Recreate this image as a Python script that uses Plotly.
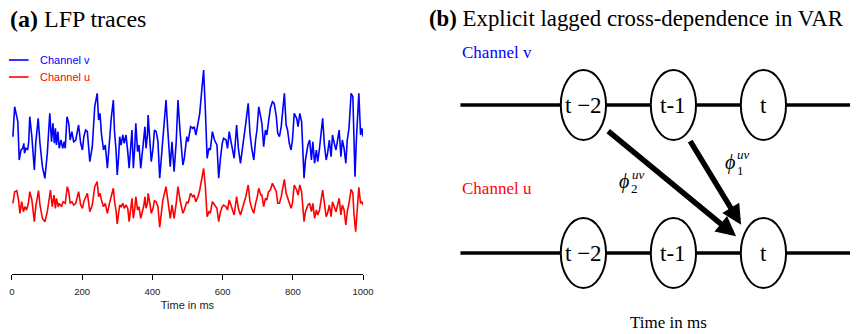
import math
import plotly.graph_objects as go

# ---------------------------------------------------------------------------
# LFP traces: time (ms) and amplitude (arbitrary units) for the two channels
# ---------------------------------------------------------------------------
time_v = [3, 8, 12, 17, 21, 26, 31, 34, 36, 40, 45, 48, 51, 57, 64, 68, 75, 80, 87, 94,
          101, 108, 113, 117, 121, 124, 127, 131, 135, 140, 145, 149, 152, 157, 162, 166, 171, 176, 182, 190,
          196, 201, 205, 210, 215, 222, 229, 236, 243, 247, 251, 255, 261, 266, 272, 278, 283, 289, 292, 297,
          300, 304, 307, 311, 316, 320, 325, 330, 334, 342, 346, 350, 353, 358, 362, 367, 376, 379, 382, 386,
          388, 393, 397, 402, 406, 411, 416, 421, 425, 430, 439, 444, 451, 456, 462, 468, 473, 479, 487, 491,
          498, 502, 509, 515, 519, 524, 530, 535, 540, 546, 551, 556, 561, 565, 571, 577, 584, 589, 594, 599,
          603, 610, 614, 619, 624, 628, 633, 640, 645, 651, 658, 666, 673, 678, 683, 689, 694, 698, 703, 709,
          712, 717, 722, 726, 731, 736, 742, 747, 753, 757, 762, 767, 776, 781, 785, 790, 795, 799, 804, 811,
          815, 820, 825, 832, 836, 843, 848, 853, 857, 862, 867, 871, 876, 885, 890, 895, 899, 904, 909, 913,
          918, 923, 932, 937, 941, 946, 951, 955, 960, 966, 971, 974, 977, 981, 988, 993, 997, 1000]
chan_v = [-1.7, 28.3, 21.7, 13.3, -25.0, -15.0, -13.3, -8.3, -18.3, -13.3, -15.0, -6.7, 18.3, -1.7, -35.0, -8.3, 16.7, -8.3, -31.7, -43.3,
          -18.3, 21.7, -6.7, 11.7, -8.3, 6.7, -10.0, 3.3, -13.3, -5.0, -13.3, -6.7, -13.3, 18.3, 11.7, -5.0, 3.3, -6.7, -5.0, 10.0,
          -8.3, -15.0, -1.7, 5.0, 3.3, -26.7, -11.7, 28.3, 41.7, 15.0, 21.7, 1.7, -15.0, -10.0, -33.3, -5.0, 16.7, 35.0, 5.0, -16.7,
          -40.0, -21.7, -1.7, -10.0, 0.0, -8.3, 0.0, -16.7, -33.3, 5.0, -33.3, -11.7, 11.7, -16.7, -10.0, -33.3, 0.0, 8.3, -13.3, 0.0,
          20.0, -6.7, -26.7, -13.3, 5.0, 3.3, -6.7, -43.3, -25.0, 1.7, 35.0, 5.0, -31.7, -6.7, -36.7, -6.7, 35.0, 3.3, -30.0, -23.3,
          -1.7, -6.7, 8.3, 6.7, 8.3, 0.0, 10.0, 21.7, 41.7, 65.0, 25.0, -23.3, -13.3, -15.0, 3.3, -5.0, -10.0, -43.3, -23.3, -8.3,
          -3.3, -5.0, -13.3, 3.3, -6.7, -13.3, -23.3, 10.0, -13.3, -28.3, -11.7, 11.7, 31.7, 1.7, -13.3, -25.0, -5.0, 5.0, 28.3, 15.0,
          11.7, -11.7, 5.0, 0.0, 16.7, 26.7, 33.3, 31.7, 18.3, 1.7, -1.7, 8.3, 41.7, 10.0, 5.0, -8.3, -15.0, -5.0, 21.7, 16.7,
          8.3, 21.7, 13.3, -43.3, -25.0, -10.0, -5.0, -25.0, -6.7, -28.3, -15.0, -26.7, -13.3, 16.7, -10.0, -25.0, -18.3, -5.0, -21.7, 0.0,
          -8.3, -15.0, 5.0, -21.7, -5.0, -13.3, -28.3, -5.0, 6.7, 41.7, 38.3, -8.3, -41.7, -5.0, 41.7, 0.0, 6.7, -1.7]

time_u = [3, 8, 14, 19, 23, 28, 33, 37, 42, 47, 51, 57, 64, 68, 76, 80, 87, 94, 101, 110,
          115, 120, 124, 127, 132, 135, 141, 146, 152, 158, 162, 166, 171, 176, 182, 190, 196, 201, 205, 210,
          215, 222, 229, 236, 243, 247, 251, 255, 261, 266, 272, 278, 283, 289, 292, 297, 300, 304, 307, 311,
          316, 320, 325, 330, 334, 342, 346, 350, 353, 358, 362, 367, 376, 379, 382, 386, 388, 393, 397, 402,
          406, 411, 416, 421, 425, 430, 439, 444, 451, 456, 462, 468, 473, 479, 487, 491, 498, 502, 509, 515,
          519, 524, 530, 535, 540, 546, 551, 556, 561, 565, 571, 577, 584, 589, 594, 599, 603, 610, 614, 619,
          624, 628, 633, 640, 645, 651, 658, 666, 673, 678, 683, 689, 694, 698, 703, 709, 712, 717, 722, 726,
          731, 736, 742, 747, 753, 757, 762, 767, 776, 781, 785, 790, 795, 799, 804, 811, 815, 820, 825, 832,
          836, 843, 848, 853, 857, 862, 867, 871, 876, 885, 890, 895, 899, 904, 909, 913, 918, 923, 932, 937,
          941, 946, 951, 955, 960, 966, 971, 974, 979, 983, 988, 993, 997, 1000]
chan_u = [1.7, 13.3, 14.3, 5.0, -8.3, 3.3, -6.7, -1.7, -5.0, 1.7, 13.3, 5.0, -16.7, -1.7, 14.3, 0.0, -13.3, -16.7, -6.7, 15.0,
          -1.7, 10.0, -3.3, 6.7, -1.7, 1.7, -1.7, 3.3, 1.7, 18.3, 13.3, 1.7, 3.3, 0.0, 1.7, 13.3, 0.0, -3.3, 3.3, 8.3,
          11.7, -6.7, 0.0, 18.3, 23.3, 8.3, 11.7, 5.0, -1.7, 1.7, -8.3, 1.7, 8.3, 16.7, 5.0, -6.7, -19.0, -10.0, 0.0, -1.7,
          1.7, -3.3, 0.0, -3.3, -16.7, 6.7, -13.3, -3.3, 8.3, -5.0, -1.7, -13.3, 0.0, 8.3, -3.3, 1.7, 11.7, 1.7, -8.3, -3.3,
          4.3, 3.3, -1.7, -22.3, -10.0, 5.0, 18.3, 5.0, -13.3, 0.0, -13.3, 1.7, 18.3, 5.0, -8.3, -5.0, 3.3, 1.7, 11.7, 8.3,
          10.0, 3.3, 8.3, 15.0, 25.0, 36.7, 18.3, -11.7, -6.7, -8.3, 3.3, 0.0, -3.3, -16.7, -6.7, -1.7, 0.0, -1.7, -5.0, 5.0,
          0.0, -3.3, -10.0, 8.3, -3.3, -10.0, -1.7, 8.3, 20.0, 3.3, -3.3, -8.3, 1.7, 6.7, 16.7, 10.0, 10.0, -1.7, 6.7, 5.0,
          13.3, 15.0, 21.7, 18.3, 13.3, 1.7, 1.7, 8.3, 25.7, 11.7, 6.7, 1.7, -3.3, 1.7, 20.0, 15.0, 10.0, 20.0, 13.3, -16.7,
          -6.7, 0.0, 1.7, -6.7, 1.7, -13.3, -5.0, -10.0, -5.0, 15.0, 0.0, -11.7, -8.3, 0.0, -11.7, 3.3, -1.7, -6.7, 6.7, -10.0,
          0.0, -5.0, -20.0, -6.7, 1.7, 15.7, 11.7, -8.3, -26.7, -1.7, 17.7, 1.7, 3.3, 0.0]

channel_names = ["Channel v", "Channel u"]
channel_colors = ["#0000ff", "#ff0000"]
v_offset = 70          # channel v is drawn above channel u
time_ticks = [0, 200, 400, 600, 800, 1000]

# ---------------------------------------------------------------------------
# VAR diagram: lags, node labels, channel rows and cross-channel edges
# ---------------------------------------------------------------------------
lag_values = [-2, -1, 0]
lag_labels = ["t \u22122", "t-1", "t"]
row_values = [1, 0]                 # channel v on top, channel u below
edge_sources = [-2, -1]             # lag of the channel-v node each edge leaves
edge_phi_index = ["2", "1"]

W, H = 861, 334
SERIF = "Liberation Serif, Times New Roman, serif"
SANS = "Liberation Sans, Arial, Helvetica, sans-serif"

# pixel geometry of the diagram coordinate system
LAG_PX, ROW_PX = 91.5, 148.0
ORIGIN_X, ORIGIN_Y = 773.0, 253.0   # pixel of (lag 0, channel u)
NODE_A, NODE_B = 23.0, 35.0          # node half-width / half-height in px


def dx(px):
    return (px - ORIGIN_X) / LAG_PX


def dy(py):
    return (ORIGIN_Y - py) / ROW_PX


fig = go.Figure()

# panel (a) traces
fig.add_trace(go.Scatter(x=time_v, y=[v + v_offset for v in chan_v], mode="lines",
                         line=dict(color=channel_colors[0], width=1.6),
                         name=channel_names[0], showlegend=False, xaxis="x", yaxis="y"))
fig.add_trace(go.Scatter(x=time_u, y=chan_u, mode="lines",
                         line=dict(color=channel_colors[1], width=1.6),
                         name=channel_names[1], showlegend=False, xaxis="x", yaxis="y"))

shapes = []
annotations = []

# hand-drawn legend for panel (a)
for i, (name, col) in enumerate(zip(channel_names, channel_colors)):
    ypx = 60 + 17 * i
    shapes.append(dict(type="line", xref="paper", yref="paper",
                       x0=6 / W, x1=26 / W, y0=1 - ypx / H, y1=1 - ypx / H,
                       line=dict(color=col, width=1.6)))
    annotations.append(dict(xref="paper", yref="paper", x=36 / W, y=1 - ypx / H,
                            xanchor="left", yanchor="middle", showarrow=False,
                            text=name, font=dict(family=SANS, size=11, color=col)))

# panel titles
annotations.append(dict(xref="paper", yref="paper", x=5 / W, y=1 - 19 / H,
                        xanchor="left", yanchor="middle", showarrow=False,
                        text="<b>(a)</b> LFP traces",
                        font=dict(family=SERIF, size=24, color="black")))
annotations.append(dict(xref="paper", yref="paper", x=431 / W, y=1 - 19 / H,
                        xanchor="left", yanchor="middle", showarrow=False,
                        text="<b>(b)</b> Explicit lagged cross-dependence in VAR",
                        font=dict(family=SERIF, size=22.8, color="black")))

# panel (b): channel timelines
line_start = dx(465)
for row in row_values:
    shapes.append(dict(type="line", xref="x2", yref="y2", x0=line_start, x1=dx(W + 5),
                       y0=row, y1=row, line=dict(color="black", width=3.5), layer="above"))

# panel (b): lag nodes
for row in row_values:
    for lag, lab in zip(lag_values, lag_labels):
        shapes.append(dict(type="circle", xref="x2", yref="y2",
                           x0=lag - NODE_A / LAG_PX, x1=lag + NODE_A / LAG_PX,
                           y0=row - NODE_B / ROW_PX, y1=row + NODE_B / ROW_PX,
                           fillcolor="white", line=dict(color="black", width=2), layer="above"))
        annotations.append(dict(xref="x2", yref="y2", x=lag, y=row, showarrow=False,
                                text=lab, font=dict(family=SERIF, size=23, color="black"),
                                xanchor="center", yanchor="middle"))

# channel names in the diagram
for row, name, col, ypx in zip(row_values, channel_names, channel_colors, [52, 188]):
    annotations.append(dict(xref="x2", yref="y2", x=line_start, y=dy(ypx), showarrow=False,
                            text=name, xanchor="left", yanchor="middle",
                            font=dict(family=SERIF, size=17, color=col)))


def ellipse_radius(ux, uy):
    return 1.0 / math.sqrt((ux / NODE_A) ** 2 + (uy / NODE_B) ** 2)


# lagged cross-dependence arrows: channel v at lag k -> channel u at lag 0
label_offsets = [
    # (phi, sub, sup) pixel offsets from arrow midpoint: (xshift, yshift)
    [(-47, 2), (-37, -5), (-33, 9)],
    [(15, 20), (25, 12), (28, 28)],
]
for src_lag, idx, offs in zip(edge_sources, edge_phi_index, label_offsets):
    sx, sy = ORIGIN_X + src_lag * LAG_PX, ORIGIN_Y - ROW_PX
    tx, ty = ORIGIN_X, ORIGIN_Y
    L = math.hypot(tx - sx, ty - sy)
    ux, uy = (tx - sx) / L, (ty - sy) / L
    r = ellipse_radius(ux, uy)
    shx, shy = -4.5 * uy, 4.5 * ux
    p0 = (sx + (r + 8) * ux + shx, sy + (r + 8) * uy + shy)
    p1 = (tx - (r + 6) * ux + shx, ty - (r + 6) * uy + shy)
    annotations.append(dict(xref="x2", yref="y2", axref="x2", ayref="y2",
                            x=dx(p1[0]), y=dy(p1[1]), ax=dx(p0[0]), ay=dy(p0[1]),
                            text="", showarrow=True, arrowhead=2, arrowsize=0.72,
                            arrowwidth=5.5, arrowcolor="black", standoff=0, startstandoff=0))
    mx, my = dx((p0[0] + p1[0]) / 2), dy((p0[1] + p1[1]) / 2)
    for txt, size, (xs, ys) in zip(["<i>\u03d5</i>", idx, "<i>uv</i>"], [20, 13, 13], offs):
        annotations.append(dict(xref="x2", yref="y2", x=mx, y=my, xshift=xs, yshift=ys,
                                showarrow=False, text=txt, xanchor="center", yanchor="middle",
                                font=dict(family=SERIF, size=size, color="black")))

annotations.append(dict(xref="x2", yref="y2", x=dx(676), y=dy(322), showarrow=False,
                        text="Time in ms", xanchor="center", yanchor="middle",
                        font=dict(family=SERIF, size=17, color="black")))

fig.update_layout(
    width=W, height=H,
    margin=dict(l=0, r=0, t=0, b=0),
    paper_bgcolor="white", plot_bgcolor="white",
    showlegend=False,
    xaxis=dict(domain=[9 / W, 366 / W], range=[0, 1000], tickvals=time_ticks,
               showline=True, linecolor="black", linewidth=1, ticks="outside",
               ticklen=5, tickcolor="black", tickwidth=1, showgrid=False, zeroline=False,
               tickfont=dict(family=SANS, size=9.5, color="#222"), ticklabelstandoff=4,
               title=dict(text="Time in ms", font=dict(family=SANS, size=11, color="#222"),
                          standoff=4),
               fixedrange=True),
    yaxis=dict(domain=[1 - 274 / H, 1 - 40 / H], range=[-69, 165], visible=False,
               fixedrange=True),
    xaxis2=dict(domain=[430 / W, 1], range=[dx(430), dx(W)], visible=False, fixedrange=True),
    yaxis2=dict(domain=[0, 1], range=[dy(H), dy(0)], visible=False, fixedrange=True),
    shapes=shapes,
    annotations=annotations,
)

fig.write_html("out.html")
